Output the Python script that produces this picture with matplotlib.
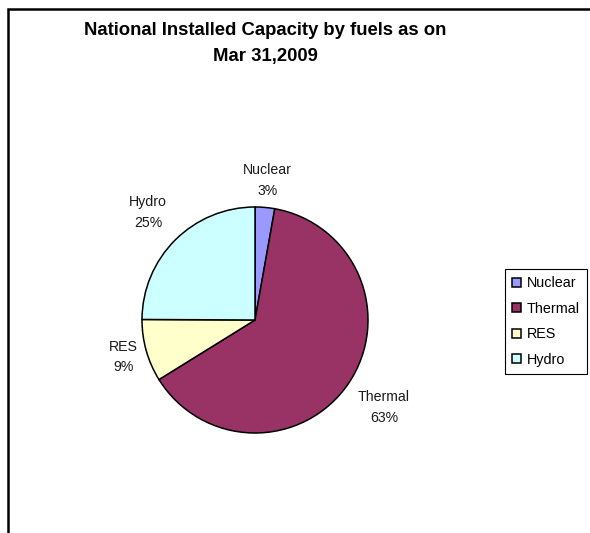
import numpy as np
import matplotlib.pyplot as plt
from matplotlib.patches import Rectangle

plt.rcParams['font.family'] = ['Liberation Sans', 'DejaVu Sans']

fuels = ["Nuclear", "Thermal", "RES", "Hydro"]
shares = [2.8, 63.3, 8.9, 24.9]
colors = ["#9999FF", "#993366", "#FFFFCC", "#CCFFFF"]
label_dist = [1.24, 1.38, 1.21, 1.34]

W, H = 590, 533
fig = plt.figure(figsize=(W / 100, H / 100), dpi=100)

# chart frame (right and bottom edges run off the picture)
fig.patches.append(Rectangle((8 / W, -0.1), 1.2, 1 - 9 / H + 0.1,
                             transform=fig.transFigure, fill=False,
                             edgecolor="black", linewidth=1.8))

fig.text(265 / W, 1 - 43.5 / H, "National Installed Capacity by fuels as on\nMar 31,2009",
         ha="center", va="center", fontsize=13.3, fontweight="bold", linespacing=1.68)

cx, cy, r = 255, 320, 113
ax = fig.add_axes([(cx - r) / W, (H - cy - r) / H, 2 * r / W, 2 * r / H])
wedges, _ = ax.pie(shares, colors=colors, startangle=90, counterclock=False,
                   wedgeprops=dict(edgecolor="black", linewidth=1.1))
ax.set_xlim(-1, 1)
ax.set_ylim(-1, 1)

total = sum(shares)
for w, name, val, d in zip(wedges, fuels, shares, label_dist):
    mid = np.deg2rad((w.theta1 + w.theta2) / 2)
    ax.text(d * np.cos(mid), d * np.sin(mid), f"{name}\n{round(val / total * 100)}%",
            ha="center", va="center", fontsize=10.2, linespacing=1.6, color="#1a1a1a")

leg = fig.legend(wedges, fuels, loc="upper left", bbox_to_anchor=(505 / W, 1 - 269 / H),
                 fancybox=False, edgecolor="black", framealpha=1, borderaxespad=0,
                 fontsize=10.4, handlelength=0.6, handleheight=0.6, handletextpad=0.4,
                 labelspacing=0.8, borderpad=0.5)
leg.get_frame().set_linewidth(0.8)

fig.savefig("out.png", dpi=100)
